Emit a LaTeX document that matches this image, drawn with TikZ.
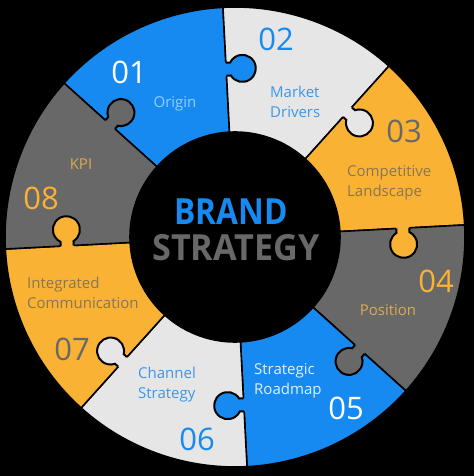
\documentclass[tikz,border=0pt]{standalone}
\usepackage{fontspec}
\setmainfont{Open Sans}
\usepackage{graphicx}
\definecolor{pblue}{RGB}{22,138,240}
\definecolor{plight}{RGB}{230,230,230}
\definecolor{porange}{RGB}{250,178,52}
\definecolor{pdark}{RGB}{104,104,104}
\definecolor{tblue}{RGB}{60,150,232}
\definecolor{tlblue}{RGB}{150,205,255}
\definecolor{twhite}{RGB}{225,240,255}
\definecolor{tbrown}{RGB}{135,118,85}
\definecolor{tor}{RGB}{220,170,80}
\newcommand\mysector[2]{%
  \path[fill=#2, draw=black, line width=1.6pt]
    (#1:105pt) -- (#1:230pt) arc[start angle=#1, end angle={#1+45}, radius=230pt]
    -- ({#1+45}:105pt) arc[start angle={#1+45}, end angle=#1, radius=105pt] -- cycle;}
\newcommand\myknob[2]{%
  \begin{scope}[shift={(#1:168pt)}, rotate=#1]
    \fill[#2] (-6.5,1.8) -- (-6.5,-4.3) arc[start angle=118.8, end angle=421.2, radius=13.5pt] -- (6.5,1.8) -- cycle;
    \draw[black, line width=2pt] (-6.5,0) -- (-6.5,-4.3) arc[start angle=118.8, end angle=421.2, radius=13.5pt] -- (6.5,0);
  \end{scope}}
\tikzset{
  num/.style={font=\fontsize{31}{34}\selectfont, inner sep=0pt},
  lab/.style={font=\fontsize{15}{20}\selectfont, inner sep=0pt, align=left},
  title/.style={font=\fontsize{36}{40}\selectfont\bfseries, inner sep=0pt}
}
\begin{document}
\begin{tikzpicture}[x=1pt,y=1pt]
\fill[black] (-235,-239) rectangle (239,237);
\useasboundingbox (-235,-239) rectangle (239,237);
% sectors
\mysector{93}{pblue}
\mysector{48}{plight}
\mysector{3}{porange}
\mysector{-42}{pdark}
\mysector{-87}{pblue}
\mysector{-132}{plight}
\mysector{183}{porange}
\mysector{138}{pdark}
% knobs (each piece into its clockwise neighbour)
\myknob{93}{pblue}
\myknob{48}{plight}
\myknob{3}{porange}
\myknob{-42}{pdark}
\myknob{-87}{pblue}
\myknob{-132}{plight}
\myknob{183}{porange}
\myknob{138}{pdark}
% numbers
\node[num, text=white]   (n01) at (-106,165) {01};
\node[num, text=pblue]   (n02) at (41,198) {02};
\node[num, text=pdark]   (n03) at (169,106) {03};
\node[num, text=porange] (n04) at (201,-44) {04};
\node[num, text=white]   (n05) at (111,-171) {05};
\node[num, text=pblue]   (n06) at (-38,-202) {06};
\node[num, text=pdark]   (n07) at (-163,-112) {07};
\node[num, text=porange] (n08) at (-194,39) {08};
% labels
\node[lab, text=tlblue] (l01) at (-60,133) {Origin};
\node[lab, text=tblue, anchor=west] (l02) at (35,135) {Market\\Drivers};
\node[lab, text=tbrown, anchor=west] (l03) at (112,54) {Competitive\\Landscape};
\node[lab, text=tor] (l04) at (153,-73) {Position};
\node[lab, text=twhite, anchor=west] (l05) at (19,-144) {Strategic\\Roadmap};
\node[lab, text=tblue, anchor=west] (l06) at (-97,-148) {Channel\\Strategy};
\node[lab, text=tbrown, anchor=west] (l07) at (-208,-56) {Integrated\\Communication};
\node[lab, text=tor] (l08) at (-154,73) {KPI};
% title
\node[title, text=pblue] (brand) at (-4,25) {\scalebox{0.88}[1]{BRAND}};
\node[title, text=pdark] (strat) at (1,-11) {\scalebox{0.95}[1]{STRATEGY}};
\end{tikzpicture}
\end{document}
